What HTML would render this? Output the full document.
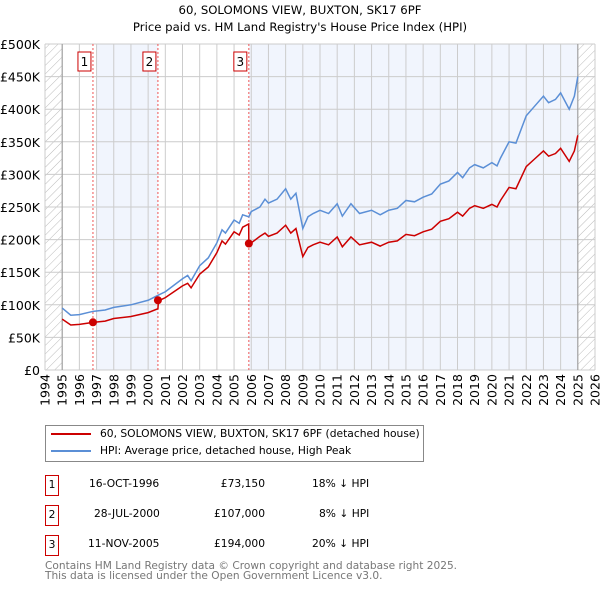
<!DOCTYPE html>
<html><head><meta charset="utf-8"><style>
body{margin:0;background:#fff;font-family:"DejaVu Sans","Liberation Sans",sans-serif}
#wrap{position:relative;width:600px;height:590px;overflow:hidden}
.t{position:absolute;font-size:10.7px;color:#000;white-space:nowrap;line-height:14px}
.box{position:absolute;border:1px solid #c00;width:12px;height:19px;text-align:center;line-height:18px;font-size:10.7px}
</style></head><body><div id="wrap">
<div class="t" style="left:0;width:600px;text-align:center;top:3px;font-size:11.7px">60, SOLOMONS VIEW, BUXTON, SK17 6PF</div>
<div class="t" style="left:0;width:600px;text-align:center;top:20px;font-size:11.7px">Price paid vs. HM Land Registry's House Price Index (HPI)</div>
<svg id="c" width="600" height="420" style="position:absolute;left:0;top:0"></svg>
<div style="position:absolute;left:45px;top:425px;width:377px;height:35px;border:1px solid #888">
<div style="position:absolute;left:5px;top:7px;width:40px;height:2px;background:#c00"></div>
<div class="t" style="left:54px;top:1px">60, SOLOMONS VIEW, BUXTON, SK17 6PF (detached house)</div>
<div style="position:absolute;left:5px;top:24px;width:40px;height:2px;background:#5b8fd6"></div>
<div class="t" style="left:54px;top:18px">HPI: Average price, detached house, High Peak</div>
</div>
<div class="box" style="left:45px;top:475px">1</div>
<div class="t" style="left:89px;top:477px">16-OCT-1996</div>
<div class="t" style="left:195px;width:70px;text-align:right;top:477px">£73,150</div>
<div class="t" style="left:312px;top:477px">18% ↓ HPI</div>
<div class="box" style="left:45px;top:505px">2</div>
<div class="t" style="left:94px;top:507px">28-JUL-2000</div>
<div class="t" style="left:195px;width:70px;text-align:right;top:507px">£107,000</div>
<div class="t" style="left:319px;top:507px">8% ↓ HPI</div>
<div class="box" style="left:45px;top:535px">3</div>
<div class="t" style="left:88px;top:537px">11-NOV-2005</div>
<div class="t" style="left:195px;width:70px;text-align:right;top:537px">£194,000</div>
<div class="t" style="left:312px;top:537px">20% ↓ HPI</div>
<div class="t" style="left:45px;top:561px;color:#777;font-size:10.6px;line-height:10px">Contains HM Land Registry data © Crown copyright and database right 2025.<br>This data is licensed under the Open Government Licence v3.0.</div>
</div>
<script>
const hpiYears=[1995,1995.5,1996,1996.8,1997.5,1998,1999,2000,2000.6,2001,2001.5,2002,2002.3,2002.5,2003,2003.5,2004,2004.3,2004.5,2005,2005.3,2005.5,2005.86,2006,2006.5,2006.8,2007,2007.5,2008,2008.3,2008.6,2009,2009.3,2009.6,2010,2010.5,2011,2011.3,2011.8,2012.3,2013,2013.5,2014,2014.5,2015,2015.5,2016,2016.5,2017,2017.5,2018,2018.3,2018.7,2019,2019.5,2020,2020.3,2020.5,2021,2021.4,2022,2022.5,2023,2023.3,2023.7,2024,2024.5,2024.8,2025];
const hpiValues=[95,84,85,90,92,96,100,107,115,120,130,140,145,137,160,172,195,215,210,230,225,238,235,243,250,262,256,262,278,262,271,217,235,240,245,240,255,236,255,240,245,238,245,248,260,258,265,270,285,290,303,295,310,315,310,318,313,325,350,348,390,405,420,410,415,425,400,420,450];
const redYears=[1995,1995.5,1996,1996.8,1997.5,1998,1999,2000,2000.57,2000.6,2001,2001.5,2002,2002.3,2002.5,2003,2003.5,2004,2004.3,2004.5,2005,2005.3,2005.5,2005.85,2005.86,2006,2006.5,2006.8,2007,2007.5,2008,2008.3,2008.6,2009,2009.3,2009.6,2010,2010.5,2011,2011.3,2011.8,2012.3,2013,2013.5,2014,2014.5,2015,2015.5,2016,2016.5,2017,2017.5,2018,2018.3,2018.7,2019,2019.5,2020,2020.3,2020.5,2021,2021.4,2022,2022.5,2023,2023.3,2023.7,2024,2024.5,2024.8,2025];
const redValues=[78,69,70,73,75,79,82,88,94,106,111,120,129,133,126,147,158,180,198,193,212,207,219,224,194,195,205,210,205,210,222,210,217,174,188,192,196,192,204,189,204,192,196,190,196,198,208,206,212,216,228,232,242,236,248,252,248,254,250,260,280,278,312,324,336,328,332,340,320,336,360];
const sales=[{n:"1",x:1996.79,v:73.15},{n:"2",x:2000.57,v:107},{n:"3",x:2005.86,v:194}];
const yTicks=[0,50,100,150,200,250,300,350,400,450,500];
const yLabels=["£0","£50K","£100K","£150K","£200K","£250K","£300K","£350K","£400K","£450K","£500K"];
const X0=45,X1=595,Y0=370,Y1=44;
const FF='DejaVu Sans, Liberation Sans, sans-serif';
const xs=y=>X0+(y-1994)/32*(X1-X0);
const ys=v=>Y0-v/500*(Y0-Y1);
const svg=document.getElementById('c');const NS='http://www.w3.org/2000/svg';
function mk(t,a,p){const e=document.createElementNS(NS,t);for(const k in a)e.setAttribute(k,a[k]);(p||svg).appendChild(e);return e;}
const defs=mk('defs',{});
const pat=mk('pattern',{id:'h',width:6,height:6,patternUnits:'userSpaceOnUse',patternTransform:'rotate(45)'},defs);
mk('line',{x1:0,y1:0,x2:0,y2:6,stroke:'#bbb','stroke-width':1},pat);
let e;
e=mk('rect',{x:xs(1994),y:Y1,width:xs(1995)-xs(1994),height:Y0-Y1,fill:'url(#h)'});

e=mk('rect',{x:xs(2025),y:Y1,width:X1-xs(2025),height:Y0-Y1,fill:'url(#h)'});

e=mk('rect',{x:xs(1997),y:Y1,width:xs(sales[1].x)-xs(1997),height:Y0-Y1,fill:'#eef3fc',opacity:0.8});

e=mk('rect',{x:xs(sales[2].x),y:Y1,width:xs(2025)-xs(sales[2].x),height:Y0-Y1,fill:'#eef3fc',opacity:0.8});

for(let yr=1994;yr<=2026;yr++){
 e=mk('line',{x1:xs(yr),x2:xs(yr),y1:Y1,y2:Y0,stroke:'#ccc','stroke-width':1});
 
 e=mk('text',{x:0,y:0,transform:`translate(${xs(yr)+4.5},${Y0+20}) rotate(-90)`,'font-size':12.5,'text-anchor':'middle','font-family':FF});
 e.textContent=yr;
}
yTicks.forEach((v,i)=>{
 e=mk('line',{x1:X0,x2:X1,y1:ys(v),y2:ys(v),stroke:'#ccc','stroke-width':1});
 
 e=mk('text',{x:X0-5,y:ys(v)+5,'font-size':12.5,'text-anchor':'end','font-family':FF});
 e.textContent=yLabels[i];
});
e=mk('line',{x1:xs(1995),x2:xs(1995),y1:Y1,y2:Y0,stroke:'#999'});
e=mk('line',{x1:xs(2025),x2:xs(2025),y1:Y1,y2:Y0,stroke:'#999'});
sales.forEach(s=>{
 e=mk('line',{x1:xs(s.x),x2:xs(s.x),y1:Y1,y2:Y0,stroke:'#e55','stroke-dasharray':'2,2'});
 
 const g=mk('g',{});
 mk('rect',{x:xs(s.x)-15,y:52,width:13,height:19,fill:'#fff',stroke:'#c00'},g);
 const t=mk('text',{x:xs(s.x)-8.5,y:66,'font-size':12,'text-anchor':'middle','font-family':FF},g);t.textContent=s.n;
});
e=mk('polyline',{points:hpiYears.map((y,i)=>xs(y)+','+ys(hpiValues[i])).join(' '),fill:'none',stroke:'#5b8fd6','stroke-width':1.5});

e=mk('polyline',{points:redYears.map((y,i)=>xs(y)+','+ys(redValues[i])).join(' '),fill:'none',stroke:'#c00','stroke-width':1.5});

sales.forEach(s=>{e=mk('circle',{cx:xs(s.x),cy:ys(s.v),r:4,fill:'#c00'});
 });
</script></body></html>
